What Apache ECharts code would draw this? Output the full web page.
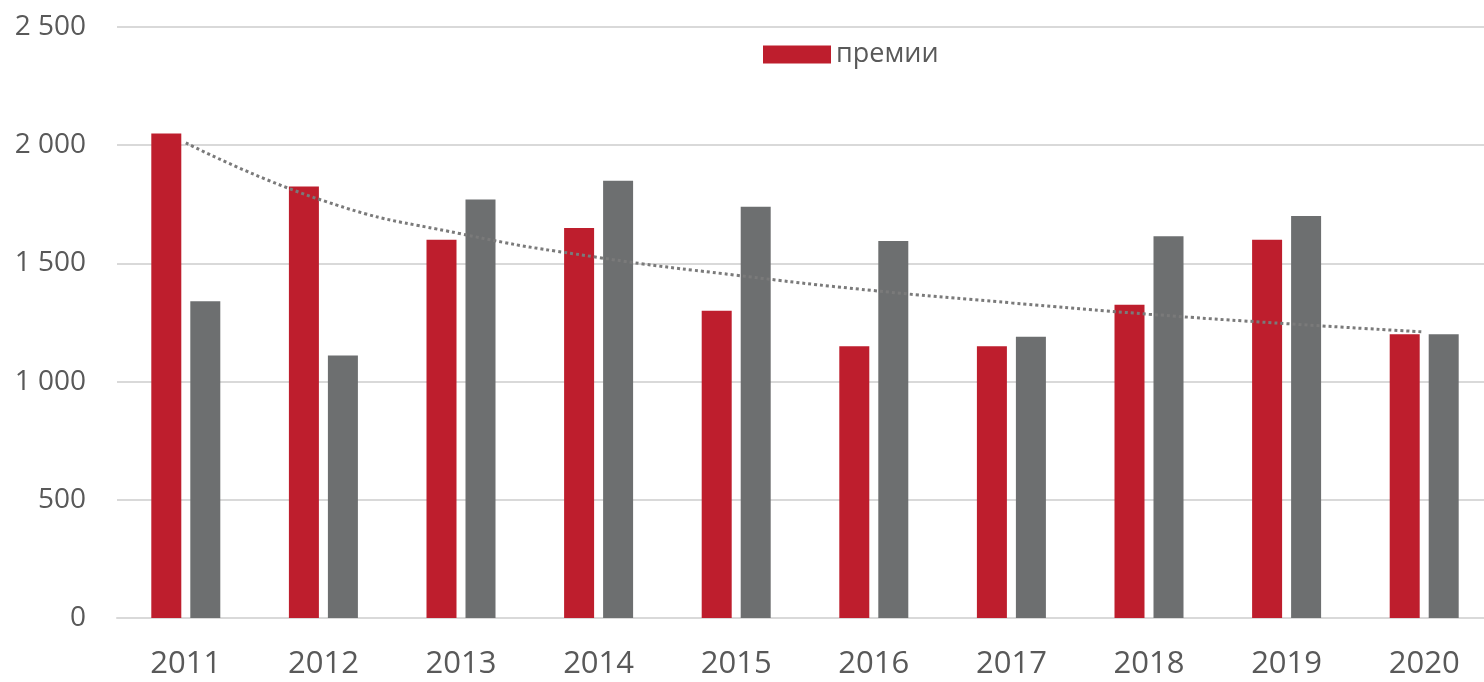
<!DOCTYPE html>
<html>
<head>
<meta charset="utf-8">
<script src="https://cdn.jsdelivr.net/npm/echarts@6/dist/echarts.min.js"></script>
<style>
  html, body { margin: 0; padding: 0; background: #fff; overflow: hidden; }
  #chart { width: 1493px; height: 682px; }
</style>
</head>
<body>
<div id="chart"></div>
<script>
var years = ['2011', '2012', '2013', '2014', '2015', '2016', '2017', '2018', '2019', '2020'];
var premii = [2050, 1825, 1600, 1650, 1300, 1150, 1150, 1325, 1600, 1200];
var secondSeries = [1340, 1110, 1770, 1850, 1740, 1595, 1190, 1615, 1700, 1200];
// trend line
var trend = [2010, 1765, 1625, 1525, 1450, 1385, 1333, 1285, 1245, 1210];

var dom = document.getElementById('chart');
var myChart = echarts.init(dom, null, { renderer: 'canvas' });

var option = {
  animation: false,
  textStyle: { fontFamily: 'Open Sans' },
  grid: { left: 117, right: 0, top: 27, bottom: 64 },
  legend: {
    data: ['премии'],
    top: 36,
    left: 758,
    icon: 'rect',
    itemWidth: 68,
    itemHeight: 18,
    itemGap: 9,
    textStyle: { fontSize: 27, color: '#595959', fontFamily: 'Open Sans' }
  },
  xAxis: {
    type: 'category',
    data: years,
    axisLine: { lineStyle: { color: '#d9d9d9', width: 2 } },
    axisTick: { show: false },
    axisLabel: { fontSize: 31, color: '#595959', margin: 31 }
  },
  yAxis: {
    type: 'value',
    min: 0,
    max: 2500,
    interval: 500,
    axisLine: { show: false },
    axisTick: { show: false },
    splitLine: { lineStyle: { color: '#d9d9d9', width: 2 } },
    axisLabel: {
      fontSize: 28,
      color: '#595959',
      margin: 31,
      formatter: function (val) {
        return String(val).replace(/\B(?=(\d{3})+(?!\d))/g, ' ');
      }
    }
  },
  series: [
    {
      name: 'премии',
      type: 'bar',
      data: premii,
      barWidth: 30,
      barGap: '30%',
      itemStyle: { color: '#be1e2d' }
    },
    {
      name: 'другое',
      type: 'bar',
      data: secondSeries,
      barWidth: 30,
      itemStyle: { color: '#6d6f70' }
    },
    {
      name: 'тренд',
      type: 'line',
      data: trend,
      smooth: true,
      symbol: 'none',
      lineStyle: { color: '#7a7a7a', width: 3, type: [3, 3] },
      z: 5
    }
  ]
};

myChart.setOption(option);
window.addEventListener('resize', myChart.resize);
</script>
</body>
</html>
